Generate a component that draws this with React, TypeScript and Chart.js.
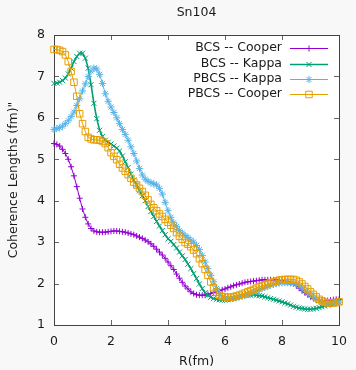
import React, { useEffect, useRef } from 'react';
import { Chart, registerables } from 'chart.js';

Chart.register(...registerables);

const chartTitle = 'Sn104';
const xAxisTitle = 'R(fm)';
const yAxisTitle = 'Coherence Lengths (fm)"';
const xTicks = [0, 2, 4, 6, 8, 10];
const yTicks = [1, 2, 3, 4, 5, 6, 7, 8];

const rGrid = [
  0.0, 0.1, 0.2, 0.3, 0.4, 0.5, 0.6, 0.7, 0.8, 0.9,
  1.0, 1.1, 1.2, 1.3, 1.4, 1.5, 1.6, 1.7, 1.8, 1.9,
  2.0, 2.1, 2.2, 2.3, 2.4, 2.5, 2.6, 2.7, 2.8, 2.9,
  3.0, 3.1, 3.2, 3.3, 3.4, 3.5, 3.6, 3.7, 3.8, 3.9,
  4.0, 4.1, 4.2, 4.3, 4.4, 4.5, 4.6, 4.7, 4.8, 4.9,
  5.0, 5.1, 5.2, 5.3, 5.4, 5.5, 5.6, 5.7, 5.8, 5.9,
  6.0, 6.1, 6.2, 6.3, 6.4, 6.5, 6.6, 6.7, 6.8, 6.9,
  7.0, 7.1, 7.2, 7.3, 7.4, 7.5, 7.6, 7.7, 7.8, 7.9,
  8.0, 8.1, 8.2, 8.3, 8.4, 8.5, 8.6, 8.7, 8.8, 8.9,
  9.0, 9.1, 9.2, 9.3, 9.4, 9.5, 9.6, 9.7, 9.8, 9.9,
  10.0,
];

const bcsCooper = [
  5.38, 5.36, 5.32, 5.24, 5.14, 5.0, 4.82, 4.6, 4.34, 4.06,
  3.8, 3.6, 3.44, 3.33, 3.27, 3.25, 3.24, 3.24, 3.24, 3.25,
  3.26, 3.27, 3.27, 3.26, 3.25, 3.24, 3.22, 3.2, 3.18, 3.15,
  3.12, 3.09, 3.05, 3.01, 2.96, 2.9, 2.83, 2.76, 2.69, 2.61,
  2.52, 2.43, 2.34, 2.23, 2.13, 2.03, 1.94, 1.87, 1.8, 1.76,
  1.73, 1.72, 1.72, 1.72, 1.74, 1.76, 1.78, 1.8, 1.83, 1.85,
  1.87, 1.9, 1.92, 1.95, 1.97, 1.99, 2.01, 2.03, 2.04, 2.05,
  2.06, 2.07, 2.08, 2.09, 2.09, 2.09, 2.09, 2.09, 2.09, 2.08,
  2.07, 2.06, 2.05, 2.02, 1.99, 1.95, 1.89, 1.83, 1.78, 1.73,
  1.68, 1.64, 1.61, 1.6, 1.59, 1.59, 1.59, 1.6, 1.61, 1.62,
  1.62,
];

const bcsKappa = [
  6.83, 6.84, 6.86, 6.9, 6.96, 7.06, 7.2, 7.36, 7.48, 7.56,
  7.56, 7.44, 7.2, 6.8, 6.35, 5.98, 5.7, 5.55, 5.46, 5.41,
  5.37, 5.32, 5.27, 5.2, 5.08, 4.94, 4.8, 4.64, 4.5, 4.38,
  4.24, 4.12, 4.0, 3.86, 3.74, 3.62, 3.5, 3.39, 3.28, 3.18,
  3.08, 3.02, 2.94, 2.86, 2.76, 2.67, 2.58, 2.47, 2.36, 2.24,
  2.12, 1.99, 1.88, 1.78, 1.72, 1.67, 1.64, 1.62, 1.61, 1.6,
  1.6, 1.61, 1.62, 1.64, 1.66, 1.68, 1.7, 1.71, 1.72, 1.72,
  1.73, 1.72, 1.71, 1.7, 1.68, 1.66, 1.64, 1.62, 1.6, 1.58,
  1.56, 1.53, 1.51, 1.48, 1.45, 1.43, 1.41, 1.4, 1.39, 1.38,
  1.38, 1.39, 1.4, 1.42, 1.44, 1.46, 1.48, 1.5, 1.52, 1.54,
  1.55,
];

const pbcsKappa = [
  5.72, 5.74, 5.76, 5.8, 5.86, 5.93, 6.03, 6.14, 6.3, 6.46,
  6.65, 6.82, 7.0, 7.13, 7.2, 7.18, 7.05, 6.83, 6.58, 6.4,
  6.26, 6.13, 6.0, 5.86, 5.72, 5.6, 5.46, 5.3, 5.14, 4.96,
  4.78, 4.62, 4.52, 4.47, 4.43, 4.41, 4.38, 4.3, 4.16, 3.96,
  3.76, 3.6, 3.47, 3.38, 3.28, 3.22, 3.16, 3.11, 3.05, 3.0,
  2.92, 2.82, 2.68, 2.52, 2.36, 2.2, 2.04, 1.88, 1.76, 1.68,
  1.65, 1.64, 1.64, 1.65, 1.66, 1.68, 1.7, 1.72, 1.74, 1.77,
  1.8, 1.82, 1.85, 1.88, 1.91, 1.93, 1.96, 1.98, 2.0, 2.01,
  2.02, 2.02, 2.02, 2.02, 2.01, 1.99, 1.95, 1.9, 1.84, 1.78,
  1.73, 1.67, 1.62, 1.58, 1.55, 1.53, 1.52, 1.52, 1.53, 1.54,
  1.55,
];

const pbcsCooper = [
  7.65, 7.65, 7.63, 7.6, 7.52, 7.36, 7.12, 6.86, 6.52, 6.1,
  5.86, 5.67, 5.53, 5.49, 5.47, 5.47, 5.46, 5.43, 5.38, 5.28,
  5.16, 5.07, 4.99, 4.88, 4.79, 4.71, 4.63, 4.54, 4.45, 4.38,
  4.3, 4.22, 4.13, 4.02, 3.91, 3.83, 3.76, 3.68, 3.62, 3.55,
  3.48, 3.41, 3.33, 3.23, 3.14, 3.07, 2.99, 2.95, 2.89, 2.81,
  2.72, 2.6, 2.48, 2.34, 2.2, 2.04, 1.9, 1.79, 1.72, 1.69,
  1.68, 1.67, 1.67, 1.68, 1.7, 1.72, 1.74, 1.77, 1.8, 1.83,
  1.86, 1.89, 1.92, 1.94, 1.97, 1.99, 2.02, 2.04, 2.06, 2.08,
  2.09, 2.1, 2.1, 2.1, 2.1, 2.08, 2.04, 1.99, 1.93, 1.87,
  1.8, 1.74, 1.68, 1.62, 1.58, 1.55, 1.53, 1.53, 1.53, 1.54,
  1.56,
];

const seriesNames = ['BCS -- Cooper', 'BCS -- Kappa', 'PBCS -- Kappa', 'PBCS -- Cooper'];
const seriesValues = [bcsCooper, bcsKappa, pbcsKappa, pbcsCooper];
const seriesColors = ['#9400d3', '#009e73', '#56b4e9', '#e69f00'];
const seriesMarkers = ['cross', 'crossRot', 'star', 'rect'];
const markerRadius = [3, 3.6, 3.6, 4.6];
const lineWidths = [1, 1.6, 1, 1];

const FONT = "'DejaVu Sans', sans-serif";
const FONT_SIZE = 12.5;
const TEXT_COLOR = '#1a1a1a';

function drawMarker(ctx: CanvasRenderingContext2D, style: string, x: number, y: number, r: number) {
  ctx.beginPath();
  if (style === 'cross' || style === 'star') {
    ctx.moveTo(x - r, y); ctx.lineTo(x + r, y);
    ctx.moveTo(x, y - r); ctx.lineTo(x, y + r);
  }
  if (style === 'crossRot' || style === 'star') {
    const o = r * Math.SQRT1_2;
    ctx.moveTo(x - o, y - o); ctx.lineTo(x + o, y + o);
    ctx.moveTo(x - o, y + o); ctx.lineTo(x + o, y - o);
  }
  if (style === 'rect') {
    const s = r * Math.SQRT1_2;
    ctx.rect(x - s, y - s, 2 * s, 2 * s);
  }
  ctx.stroke();
}

const framePlugin = {
  id: 'gnuplotFrame',
  beforeDraw(chart: any) {
    const { ctx, chartArea: a, width, height } = chart;
    ctx.save();
    ctx.fillStyle = '#f8f8f8';
    ctx.fillRect(0, 0, width, height);
    ctx.fillStyle = '#ffffff';
    ctx.fillRect(a.left, a.top, a.right - a.left, a.bottom - a.top);
    ctx.restore();
  },
  beforeDatasetsDraw(chart: any) {
    const { ctx, chartArea: a, scales } = chart;
    ctx.save();
    ctx.strokeStyle = '#666666';
    ctx.lineWidth = 1;
    const tl = 5;
    ctx.beginPath();
    xTicks.forEach((v) => {
      const px = Math.round(scales.x.getPixelForValue(v)) + 0.5;
      if (v === xTicks[0] || v === xTicks[xTicks.length - 1]) return;
      ctx.moveTo(px, a.bottom); ctx.lineTo(px, a.bottom - tl);
      ctx.moveTo(px, a.top); ctx.lineTo(px, a.top + tl);
    });
    yTicks.forEach((v) => {
      const py = Math.round(scales.y.getPixelForValue(v)) + 0.5;
      if (v === yTicks[0] || v === yTicks[yTicks.length - 1]) return;
      ctx.moveTo(a.left, py); ctx.lineTo(a.left + tl, py);
      ctx.moveTo(a.right, py); ctx.lineTo(a.right - tl, py);
    });
    ctx.stroke();
    ctx.strokeStyle = '#444444';
    ctx.strokeRect(Math.round(a.left) + 0.5, Math.round(a.top) + 0.5,
      Math.round(a.right - a.left), Math.round(a.bottom - a.top));
    ctx.restore();
  },
  afterDraw(chart: any) {
    const { ctx, chartArea: a } = chart;
    ctx.save();
    ctx.fillStyle = TEXT_COLOR;
    ctx.font = `${FONT_SIZE}px ${FONT}`;
    ctx.textAlign = 'center';
    ctx.textBaseline = 'middle';
    ctx.fillText(chartTitle, (a.left + a.right) / 2, 13);

    // legend
    const textRight = 282;
    const lineL = 290;
    const lineR = 328;
    const rows = [48, 63.5, 79, 94];
    seriesNames.forEach((name, i) => {
      const y = rows[i];
      ctx.fillStyle = TEXT_COLOR;
      ctx.textAlign = 'right';
      ctx.fillText(name, textRight, y);
      ctx.strokeStyle = seriesColors[i];
      ctx.lineWidth = lineWidths[i];
      ctx.beginPath();
      ctx.moveTo(lineL, Math.round(y) + 0.5);
      ctx.lineTo(lineR, Math.round(y) + 0.5);
      ctx.stroke();
      ctx.lineWidth = 1;
      drawMarker(ctx, seriesMarkers[i], (lineL + lineR) / 2, Math.round(y) + 0.5, markerRadius[i]);
    });
    ctx.restore();
  },
};

export default function App() {
  const canvasRef = useRef<HTMLCanvasElement | null>(null);

  useEffect(() => {
    document.body.style.margin = '0';
    document.body.style.background = '#f8f8f8';
    const canvas = canvasRef.current;
    if (!canvas) return;

    const datasets = seriesNames.map((name, i) => ({
      label: name,
      data: rGrid.map((r, k) => ({ x: r, y: seriesValues[i][k] })),
      borderColor: seriesColors[i],
      backgroundColor: 'rgba(0,0,0,0)',
      borderWidth: lineWidths[i],
      pointStyle: seriesMarkers[i],
      pointRadius: markerRadius[i],
      pointBorderWidth: 1,
      pointBorderColor: seriesColors[i],
      pointBackgroundColor: 'rgba(0,0,0,0)',
      fill: false,
      tension: 0,
      clip: false as any,
      order: seriesNames.length - i,
    }));

    const chart = new Chart(canvas, {
      type: 'line',
      data: { datasets },
      plugins: [framePlugin],
      options: {
        animation: false,
        responsive: false,
        maintainAspectRatio: false,
        devicePixelRatio: 1,
        layout: { padding: { top: 35, right: 11, left: 0, bottom: 0 } },
        plugins: {
          legend: { display: false },
          title: { display: false },
          tooltip: { enabled: false },
        },
        scales: {
          x: {
            type: 'linear',
            min: 0,
            max: 10,
            afterFit: (s: any) => { s.height = 45; },
            afterBuildTicks: (s: any) => { s.ticks = xTicks.map((v) => ({ value: v })); },
            grid: { display: false, drawTicks: false },
            border: { display: false },
            ticks: {
              padding: 9,
              color: TEXT_COLOR,
              font: { family: FONT, size: FONT_SIZE },
              maxRotation: 0,
              callback: (v: any) => String(v),
            },
            title: {
              display: true,
              text: xAxisTitle,
              color: TEXT_COLOR,
              font: { family: FONT, size: FONT_SIZE },
              padding: { top: 0, bottom: 1 },
            },
          },
          y: {
            type: 'linear',
            min: 1,
            max: 8,
            afterFit: (s: any) => { s.width = 54; },
            afterBuildTicks: (s: any) => { s.ticks = yTicks.map((v) => ({ value: v })); },
            grid: { display: false, drawTicks: false },
            border: { display: false },
            ticks: {
              padding: 9,
              color: TEXT_COLOR,
              font: { family: FONT, size: FONT_SIZE },
              callback: (v: any) => String(v),
            },
            title: {
              display: true,
              text: yAxisTitle,
              color: TEXT_COLOR,
              font: { family: FONT, size: FONT_SIZE },
              padding: { top: 6, bottom: 0 },
            },
          },
        },
      },
    });

    return () => chart.destroy();
  }, []);

  return (
    <div style={{ width: 356, height: 370, background: '#f8f8f8' }}>
      <canvas ref={canvasRef} width={356} height={370} style={{ display: 'block', width: 356, height: 370 }} />
    </div>
  );
}
